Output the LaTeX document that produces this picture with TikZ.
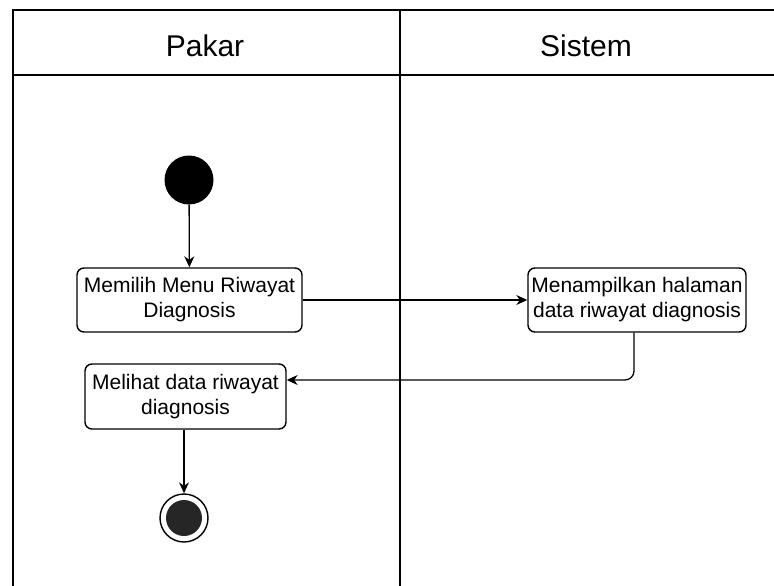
\documentclass[tikz,border=0pt]{standalone}
\usepackage{fontspec}
\setmainfont{Liberation Sans}
\usetikzlibrary{arrows.meta}
\begin{document}
\begin{tikzpicture}[x=1pt,y=-1pt,
  lane/.style={line width=1.4pt},
  title/.style={font=\fontsize{30}{35}\selectfont, inner sep=0pt},
  act/.style={draw, rounded corners=7pt, line width=1.4pt, align=center,
    font=\fontsize{21}{25}\selectfont, inner sep=0pt, minimum height=64pt},
  flow/.style={-{Stealth[length=11pt,width=10pt]}, line width=1.3pt},
  startdot/.style={circle, fill=black, minimum size=49pt, inner sep=0pt},
  enddot/.style={circle, draw, line width=1.4pt, minimum size=48pt, inner sep=0pt}]
\useasboundingbox (0,0) rectangle (774,586);

% swimlane frame
\draw[lane] (13,590) -- (13,10) -- (778,10);
\draw[lane] (13,75) -- (778,75);
\draw[lane] (400,10) -- (400,590);
\node[title] (pakar) at (205,46) {Pakar};
\node[title] (sistem) at (586,46) {Sistem};

% activities
\node[startdot] (start) at (189,180) {};
\node[act, minimum width=225pt] (pilih) at (189.5,300) {Memilih Menu Riwayat\\Diagnosis};
\node[act, minimum width=218pt] (tampil) at (637,300) {Menampilkan halaman\\data riwayat diagnosis};
\node[act, minimum width=201pt, minimum height=65pt] (lihat) at (185.5,396.5) {Melihat data riwayat\\diagnosis};
\node[enddot] (final) at (184,518) {};
\fill[black!85] (final.center) circle (18pt);

% flows
\draw[flow] (start) -- (pilih);
\draw[flow] (pilih) -- (tampil);
\draw[flow, rounded corners=9pt] ([xshift=-3pt]tampil.south) |- ([yshift=16.5pt]lihat.east);
\draw[flow] ([xshift=-1.5pt]lihat.south) -- (final);
\end{tikzpicture}
\end{document}
